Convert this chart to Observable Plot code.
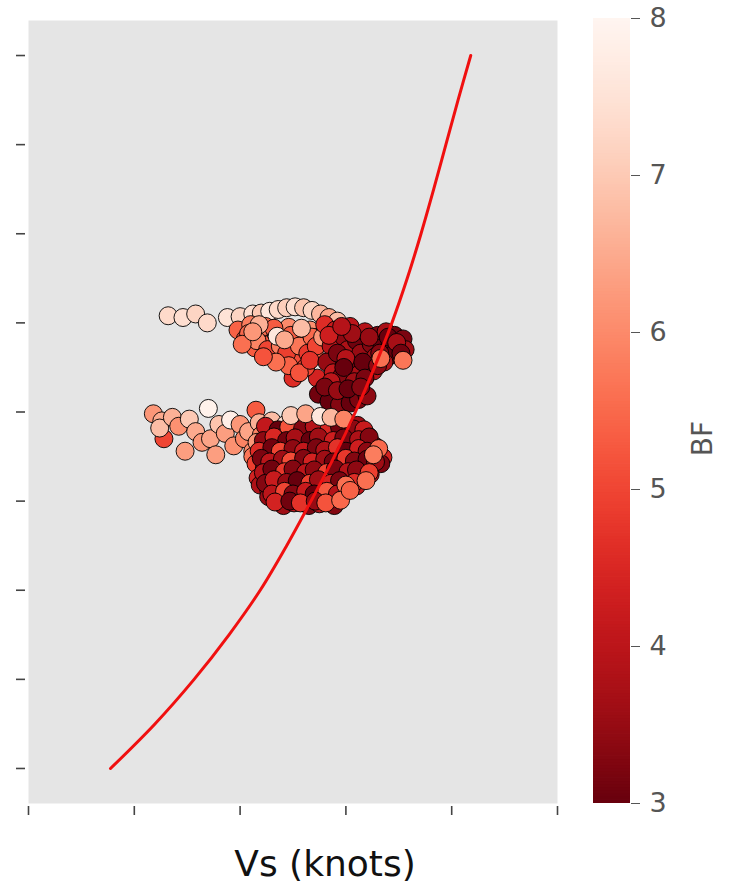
<!DOCTYPE html>
<html><head><meta charset="utf-8">
<script src="https://cdn.jsdelivr.net/npm/d3@7"></script>
<script src="https://cdn.jsdelivr.net/npm/@observablehq/plot@0.6"></script>
<style>
html,body{margin:0;padding:0;background:#fff;}
#wrap{position:relative;width:729px;height:896px;overflow:hidden;}
#wrap svg{position:absolute;top:0;}
</style></head><body><div id="wrap"></div>
<script>
const xTicks = [0, 1, 2, 3, 4, 5];
const yTicks = [0, 1, 2, 3, 4, 5, 6, 7, 8];
const bfTicks = [3, 4, 5, 6, 7, 8];

// fitted curve (red line)
const curveY  = [0, 0.5, 1, 1.5, 2, 2.5, 3, 3.5, 4, 4.5, 5, 5.5, 6, 6.5, 7, 7.5, 8];
const curveVs = [0.775, 1.195, 1.565, 1.895, 2.19, 2.44, 2.67, 2.89, 3.09, 3.27, 3.435, 3.58, 3.71, 3.83, 3.945, 4.06, 4.18];

// [Vs, y, BF]
const upperTail = [
  [1.32,5.08,7.3],[1.46,5.06,7.4],[1.58,5.10,7.2],[1.69,5.00,7.3],[1.88,5.06,7.5],[2.00,5.07,7.2],
  [2.12,5.10,7.4],[2.20,5.11,7.0],[2.28,5.13,7.6],[2.36,5.15,7.3],[2.44,5.17,7.1],[2.52,5.18,7.4],
  [2.60,5.17,6.9],[2.68,5.14,7.2],[2.76,5.10,6.7],[2.84,5.06,6.4],[2.92,5.02,6.8]
];
const upperLeft = [
  [1.98,4.92,5.4],[2.05,4.82,5.1],[2.10,4.98,5.8],[2.14,4.72,5.3],[2.20,4.86,5.0],[2.24,4.96,5.6],
  [2.28,4.76,5.2],[2.34,4.88,5.9],[2.36,4.66,5.0],[2.42,4.80,5.4],[2.46,4.95,6.0],[2.50,4.70,5.2],
  [2.54,4.86,5.6],[2.58,4.60,5.1],[2.62,4.78,4.9],[2.66,4.92,6.1],[2.70,4.66,5.4],[2.74,4.84,5.2],
  [2.50,4.38,4.6],[2.73,4.38,4.4],[2.62,4.50,5.0],[2.40,4.58,5.5],[2.30,4.64,5.7],
  [2.08,4.88,5.5],[2.16,4.80,5.9],[2.26,4.70,5.0],[2.32,4.94,5.3],[2.38,4.74,5.8],[2.44,4.66,4.9],
  [2.48,4.86,5.3],[2.56,4.74,5.7],[2.64,4.66,4.8],[2.68,4.84,5.5],[2.72,4.74,5.0],[2.46,4.52,5.4],
  [2.56,4.44,5.2],[2.66,4.58,4.7],[2.34,4.56,5.6],[2.22,4.62,5.2],[2.02,4.76,5.6],
  [2.35,4.85,7.6],[2.42,4.81,6.5],[2.58,4.94,6.8],[2.78,4.84,6.2],[2.18,4.98,6.6],[2.12,4.90,6.2]
];
const upperRight = [
  [2.80,4.98,4.6],[2.86,4.74,3.9],[2.90,4.92,4.2],[2.94,4.58,3.6],[2.98,4.84,3.4],[3.02,4.70,3.8],
  [3.04,4.96,4.0],[3.08,4.54,3.2],[3.10,4.80,3.1],[3.14,4.66,3.5],[3.18,4.90,3.9],[3.20,4.52,3.0],
  [3.24,4.76,3.3],[3.28,4.62,3.6],[3.30,4.86,3.2],[3.34,4.72,3.0],[3.38,4.90,3.7],[3.42,4.78,3.3],
  [3.46,4.86,3.1],[3.50,4.74,3.4],[3.54,4.82,3.2],[3.56,4.70,3.6],[3.44,4.64,3.0],[3.36,4.56,3.8],
  [2.82,4.56,3.5],[2.88,4.44,4.1],[2.96,4.40,3.3],[3.12,4.42,3.7],[3.26,4.46,3.9],
  [2.92,4.66,3.2],[3.00,4.60,3.9],[3.06,4.88,3.6],[3.16,4.56,3.0],[3.22,4.84,3.5],[3.32,4.66,3.3],
  [3.40,4.84,3.0],[3.48,4.78,3.7],[3.52,4.66,3.1],[2.98,4.50,3.0],[3.08,4.34,3.6],[3.18,4.38,3.2],
  [2.86,4.34,4.0],[3.30,4.52,3.4],[2.84,4.86,4.3],[2.96,4.96,3.9],
  [3.33,4.60,5.6],[3.54,4.58,5.7],
  [2.74,4.20,3.1],[2.84,4.12,3.0],[2.94,4.08,3.3],[3.04,4.10,3.0],[3.12,4.14,3.2],[3.20,4.18,3.4],
  [2.80,4.28,3.2],[2.92,4.24,3.5],[3.02,4.26,3.0],[3.14,4.28,3.3]
];
const lowerTail = [
  [1.18,3.98,6.2],[1.26,3.90,6.5],[1.28,3.70,5.0],[1.24,3.82,6.8],[1.36,3.94,6.6],[1.42,3.84,6.1],
  [1.48,3.56,6.3],[1.52,3.92,7.0],[1.58,3.78,6.5],[1.64,3.66,6.2],[1.70,4.04,7.9],[1.72,3.70,6.4],
  [1.77,3.52,6.3],[1.80,3.86,6.9],[1.86,3.76,6.3],[1.91,3.91,7.8],[1.94,3.62,6.1],[2.00,3.86,6.2],
  [2.04,3.70,5.9],[2.08,3.78,6.4],[2.12,3.56,6.0],[2.15,4.02,5.3],[2.18,3.88,6.6]
];
const lowerBody = [
  [2.30,3.90,6.8],[2.43,3.86,7.4],[2.55,3.91,3.4],[2.66,3.87,6.9],[2.79,3.90,3.2],[2.90,3.86,7.2],[3.01,3.89,4.0],[3.11,3.85,3.6],
  [2.20,3.74,5.9],[2.31,3.79,3.3],[2.39,3.73,4.2],[2.51,3.78,3.1],[2.60,3.72,3.8],[2.71,3.77,4.7],[2.80,3.74,3.0],[2.91,3.79,3.5],[2.99,3.73,4.4],[3.10,3.78,3.2],[3.21,3.73,3.9],
  [2.16,3.66,6.2],[2.27,3.61,4.8],[2.35,3.67,3.2],[2.47,3.62,3.9],[2.55,3.66,4.9],[2.67,3.61,3.3],[2.75,3.67,4.1],[2.87,3.62,3.0],[2.95,3.66,3.7],[3.07,3.61,4.6],[3.15,3.66,3.1],[3.27,3.62,3.5],
  [2.12,3.50,5.7],[2.23,3.55,3.6],[2.31,3.49,4.7],[2.43,3.54,3.2],[2.51,3.49,4.3],[2.63,3.55,3.0],[2.71,3.50,4.8],[2.83,3.54,3.4],[2.91,3.49,3.9],[3.03,3.55,3.1],[3.14,3.54,5.0],[3.35,3.49,4.4],
  [2.15,3.42,4.9],[2.23,3.37,3.3],[2.35,3.43,4.4],[2.43,3.38,3.0],[2.55,3.42,4.6],[2.63,3.37,3.5],[2.75,3.43,3.1],[2.83,3.38,4.2],[2.95,3.42,3.3],[3.03,3.37,4.0],[3.15,3.42,3.6],[3.23,3.38,4.5],[3.33,3.42,3.2],
  [2.17,3.26,4.4],[2.25,3.31,5.0],[2.37,3.25,3.4],[2.45,3.30,4.1],[2.53,3.25,4.6],[2.61,3.31,3.2],[2.73,3.26,4.7],[2.81,3.30,3.0],[2.93,3.25,4.3],[3.01,3.30,3.5],[3.12,3.27,5.2],[3.23,3.30,3.8],
  [2.19,3.18,3.8],[2.27,3.13,4.6],[2.39,3.18,3.1],[2.47,3.14,4.8],[2.59,3.18,3.6],[2.67,3.13,4.5],[2.79,3.18,3.2],[2.87,3.14,5.1],[3.10,3.17,4.0],
  [2.27,3.05,3.5],[2.35,3.01,4.3],[2.47,3.06,3.2],[2.55,3.02,5.0],[2.67,3.06,3.4],[2.75,3.01,4.9],[2.87,3.05,3.7],
  [2.41,2.95,3.6],[2.51,2.98,4.0],[2.65,2.95,3.2],[2.75,2.97,3.8],[2.89,2.95,3.3],
  [2.24,3.84,4.1],[2.36,3.80,3.0],[2.46,3.83,5.2],[2.59,3.81,3.3],[2.70,3.84,3.9],[2.84,3.80,4.5],[2.94,3.83,3.1],[3.07,3.81,3.4],[3.17,3.80,4.2],
  [2.22,3.68,3.4],[2.32,3.72,4.5],[2.44,3.68,3.1],[2.52,3.71,3.7],[2.66,3.68,3.0],[2.74,3.72,3.6],[2.88,3.68,4.3],[2.98,3.71,3.2],[3.12,3.69,3.8],[3.22,3.72,3.3],
  [2.18,3.56,4.6],[2.30,3.60,3.1],[2.38,3.56,5.0],[2.50,3.59,3.4],[2.60,3.56,4.1],[2.72,3.60,3.2],[2.80,3.57,3.8],[2.92,3.60,4.7],[3.00,3.56,3.0],[3.12,3.59,4.3],[3.20,3.56,3.4],[3.31,3.59,5.5],
  [2.20,3.48,3.2],[2.28,3.44,4.0],[2.40,3.47,3.6],[2.48,3.45,5.1],[2.60,3.48,3.3],[2.68,3.44,4.4],[2.80,3.47,3.6],[2.88,3.44,3.1],[3.00,3.48,4.8],[3.08,3.45,3.3],[3.20,3.47,3.1],[3.28,3.44,3.6],
  [2.22,3.32,3.9],[2.30,3.36,3.1],[2.42,3.33,4.8],[2.50,3.36,3.3],[2.62,3.32,4.0],[2.70,3.35,3.4],[2.82,3.32,5.0],[2.90,3.36,3.2],[3.02,3.33,3.9],[3.10,3.35,3.4],[3.22,3.32,4.9],
  [2.24,3.20,3.3],[2.32,3.24,4.2],[2.44,3.21,3.5],[2.54,3.23,3.0],[2.66,3.20,4.9],[2.74,3.24,3.6],[2.86,3.20,4.4],[2.94,3.23,3.2],[3.08,3.21,4.6],
  [2.30,3.08,4.0],[2.42,3.11,5.0],[2.50,3.08,3.3],[2.62,3.11,4.2],[2.70,3.08,3.0],[2.82,3.11,5.3],[2.92,3.08,3.9],
  [2.33,2.99,4.4],[2.47,3.00,3.1],[2.57,2.98,4.7],[2.71,3.00,3.5],[2.81,2.98,5.2],
  [3.26,3.52,5.8],[3.00,3.18,5.6],[3.19,3.23,5.6],[2.95,3.01,5.5],[3.04,3.12,5.4],
  [2.48,3.96,7.0],[2.62,3.98,6.4],[2.76,3.95,7.6],[2.86,3.94,6.7],[2.98,3.92,5.9]
];

const points = [...upperTail, ...upperLeft, ...upperRight, ...lowerTail, ...lowerBody]
  .map(([vs, y, bf]) => ({vs, y, bf}));
const curve = curveVs.map((vs, i) => ({vs, y: curveY[i]}));
const colorScale = {type: "linear", scheme: "reds", reverse: true, domain: [3, 8]};

const main = Plot.plot({
  width: 729, height: 896,
  marginTop: 20, marginBottom: 93, marginLeft: 28, marginRight: 172,
  x: {domain: [0, 5]},
  y: {domain: [-0.393, 8.393]},
  color: colorScale,
  style: {background: "transparent", fontFamily: "DejaVu Sans"},
  marks: [
    Plot.frame({fill: "#e5e5e5", stroke: "none"}),
    Plot.axisY({ticks: yTicks, tickFormat: () => "", tickSize: 9, dx: -3, stroke: "#444", strokeWidth: 1.6, label: null}),
    Plot.axisX({ticks: xTicks, tickFormat: () => "", tickSize: 9, dy: 3, stroke: "#444", strokeWidth: 1.6, label: null}),
    Plot.dot(points, {x: "vs", y: "y", fill: "bf", r: 9, stroke: "#000", strokeWidth: 1, strokeOpacity: 0.9}),
    Plot.line(curve, {x: "vs", y: "y", stroke: "#f01010", strokeWidth: 3, curve: "catmull-rom"}),
    Plot.text(["Vs (knots)"], {text: d => d, frameAnchor: "bottom", dx: 32, dy: 72, fontSize: 36, fill: "#111"})
  ]
});

const steps = d3.range(3, 8, 0.02);
const bar = Plot.plot({
  width: 136, height: 896,
  marginTop: 18, marginBottom: 93, marginLeft: 0, marginRight: 99,
  y: {domain: [3, 8]},
  color: colorScale,
  style: {background: "transparent", fontFamily: "DejaVu Sans"},
  marks: [
    Plot.rect(steps, {y1: d => d, y2: d => Math.min(8, d + 0.025), fill: d => d + 0.01}),
    Plot.axisY({anchor: "right", ticks: bfTicks, tickFormat: "d", tickSize: 9, tickPadding: 10, fontSize: 27, color: "#555", label: null}),
    Plot.text(["BF"], {text: d => d, frameAnchor: "right", dx: 73, dy: 10, rotate: -90, fontSize: 28, fill: "#555"})
  ]
});
bar.style.left = "593px";
main.style.left = "0px";
document.getElementById("wrap").append(main, bar);
</script></body></html>
